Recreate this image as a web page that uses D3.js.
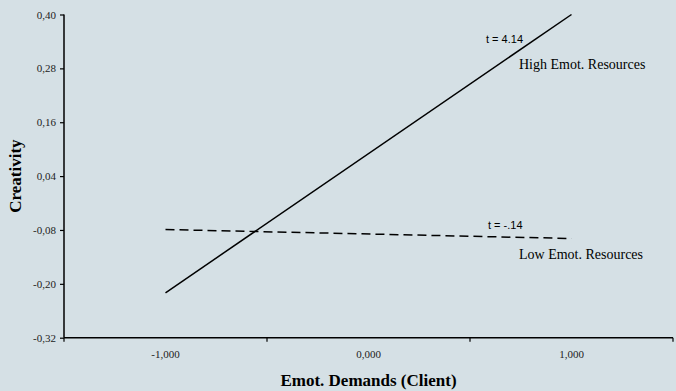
<!DOCTYPE html>
<html>
<head>
<meta charset="utf-8">
<script src="https://cdn.jsdelivr.net/npm/d3@7"></script>
<style>
  html, body { margin: 0; padding: 0; background: #d5e0e5; }
  svg { display: block; }
</style>
</head>
<body>
<svg id="chart" width="676" height="391"></svg>
<script>
// Simple-slopes plot: creativity predicted from emotional demands at two resource levels
const categories = [-1, 0, 1];
const categoryLabels = ["-1,000", "0,000", "1,000"];
const highResources = [-0.220, 0.400];   // at x = -1 and x = 1
const lowResources = [-0.079, -0.099];   // at x = -1 and x = 1
const yTicks = [0.40, 0.28, 0.16, 0.04, -0.08, -0.20, -0.32];
const yTickLabels = ["0,40", "0,28", "0,16", "0,04", "-0,08", "-0,20", "-0,32"];
const seriesNames = ["High Emot. Resources", "Low Emot. Resources"];
const tLabels = ["t = 4.14", "t = -.14"];

const svg = d3.select("#chart");
const margin = { left: 64, right: 3, top: 14.5, bottom: 53.3 };
const W = 676, H = 391;

const x = d3.scaleLinear().domain([-1.5, 1.5]).range([margin.left, W - margin.right]);
const y = d3.scaleLinear().domain([-0.32, 0.40]).range([H - margin.bottom, margin.top]);

const serif = "'Liberation Serif', 'Times New Roman', serif";
const sans = "'Liberation Sans', Arial, sans-serif";

// Y axis
const yAxis = d3.axisLeft(y)
  .tickValues(yTicks)
  .tickSize(4)
  .tickFormat((d, i) => yTickLabels[i]);
const gy = svg.append("g").attr("transform", `translate(${margin.left},0)`).call(yAxis);
gy.select(".domain").attr("stroke", "#000").attr("stroke-width", 1.5).attr("d", `M0,${y(0.40)}V${y(-0.32)}`);
gy.selectAll(".tick line").attr("stroke", "#000").attr("stroke-width", 1.2);
gy.selectAll(".tick text").attr("font-family", serif).attr("font-size", 11).attr("fill", "#222").attr("x", -8);

// X axis: boundary ticks between categories, labels centred on categories
const boundaries = [-1.5, -0.5, 0.5, 1.5];
const gx = svg.append("g").attr("transform", `translate(0,${y(-0.32)})`);
gx.append("line")
  .attr("x1", x(-1.5)).attr("x2", x(1.5))
  .attr("stroke", "#000").attr("stroke-width", 1.5);
gx.selectAll("line.tick").data(boundaries).join("line")
  .attr("class", "tick")
  .attr("x1", d => x(d)).attr("x2", d => x(d))
  .attr("y1", 0).attr("y2", 4)
  .attr("stroke", "#000").attr("stroke-width", 1.2);
gx.selectAll("text").data(categories).join("text")
  .attr("x", d => x(d)).attr("y", 20.5)
  .attr("text-anchor", "middle")
  .attr("font-family", serif).attr("font-size", 11).attr("fill", "#222")
  .text((d, i) => categoryLabels[i]);

// Axis titles
svg.append("text")
  .attr("x", x(0)).attr("y", 386)
  .attr("text-anchor", "middle")
  .attr("font-family", serif).attr("font-size", 17).attr("font-weight", "bold")
  .text("Emot. Demands (Client)");
svg.append("text")
  .attr("transform", `translate(21,${(y(0.40) + y(-0.32)) / 2}) rotate(-90)`)
  .attr("text-anchor", "middle")
  .attr("font-family", serif).attr("font-size", 17).attr("font-weight", "bold")
  .text("Creativity");

// Lines
const line = d3.line().x(d => x(d[0])).y(d => y(d[1]));
const ends = [categories[0], categories[2]];
svg.append("path")
  .attr("d", line(ends.map((c, i) => [c, highResources[i]])))
  .attr("fill", "none").attr("stroke", "#000").attr("stroke-width", 1.5);
svg.append("path")
  .attr("d", line(ends.map((c, i) => [c, lowResources[i]])))
  .attr("fill", "none").attr("stroke", "#000").attr("stroke-width", 1.5)
  .attr("stroke-dasharray", "9,5");

// Annotations
svg.append("text").attr("x", 486).attr("y", 42.5)
  .attr("font-family", sans).attr("font-size", 11).text(tLabels[0]);
svg.append("text").attr("x", 519).attr("y", 68.5)
  .attr("font-family", serif).attr("font-size", 14).text(seriesNames[0]);
svg.append("text").attr("x", 488).attr("y", 229)
  .attr("font-family", sans).attr("font-size", 11).text(tLabels[1]);
svg.append("text").attr("x", 519).attr("y", 258.5)
  .attr("font-family", serif).attr("font-size", 14).text(seriesNames[1]);
</script>
</body>
</html>
